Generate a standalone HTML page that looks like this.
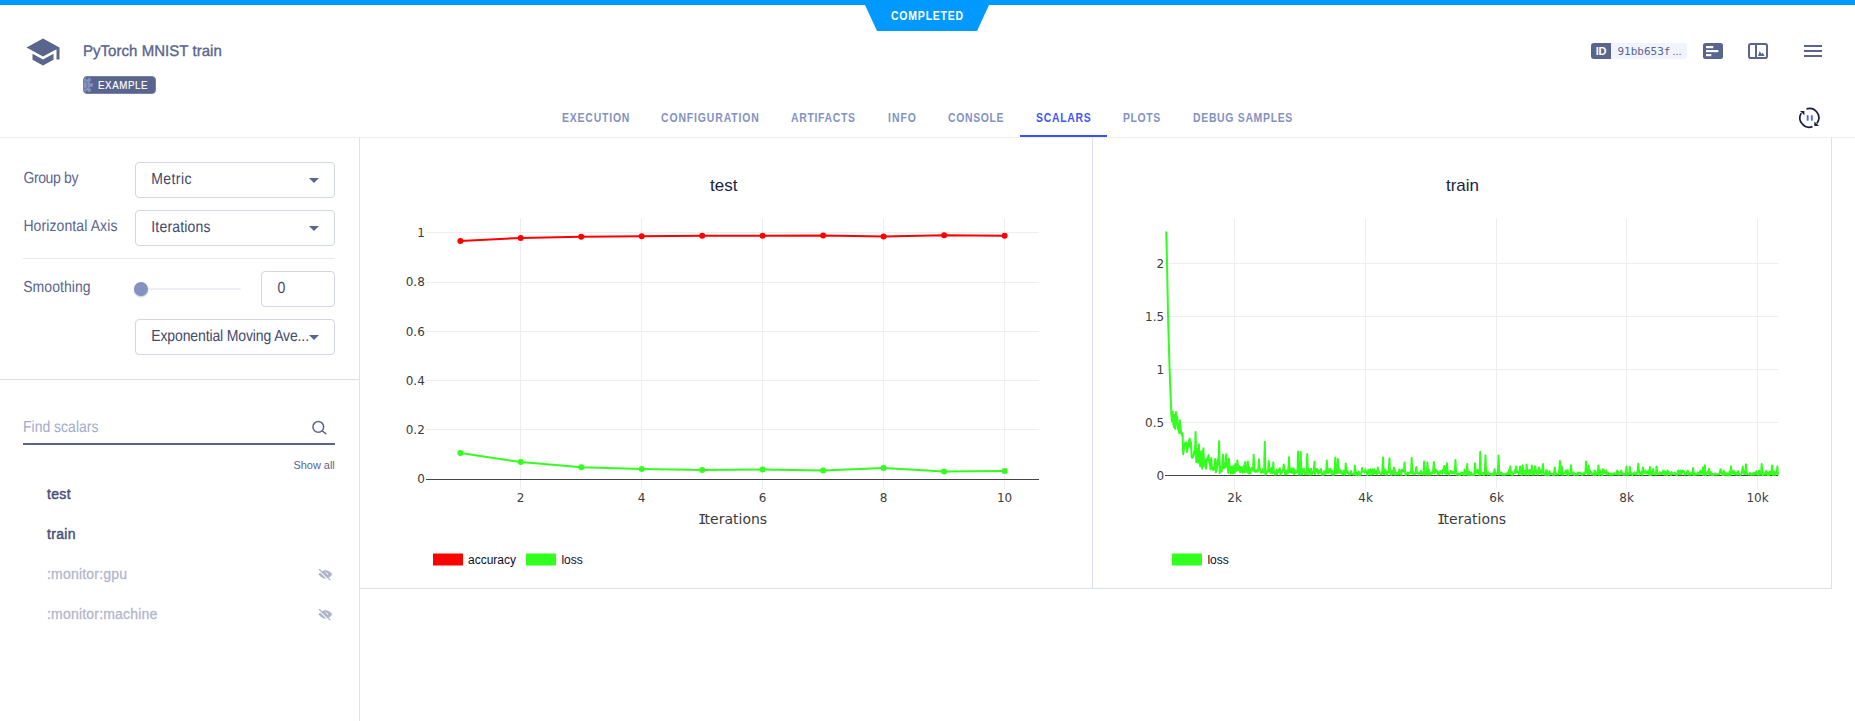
<!DOCTYPE html>
<html lang="en">
<head>
<meta charset="utf-8">
<title>PyTorch MNIST train - Scalars</title>
<style>
*{box-sizing:border-box;margin:0;padding:0}
html,body{width:1855px;height:721px;overflow:hidden;background:#fff}
body{position:relative;font-family:"Liberation Sans",Arial,sans-serif;color:#5a658e;-webkit-font-smoothing:antialiased}
.abs{position:absolute}
.t{position:absolute;white-space:nowrap;line-height:20px;height:20px}
.v{text-rendering:geometricPrecision;transform:translateY(0.15px) scaleY(1.14);transform-origin:0 14.85px}
/* top status */
#topbar{left:0;top:0;width:1855px;height:5px;background:#0099ff}
#status{left:865px;top:5px;width:124px;height:26px;background:#0099ff;clip-path:polygon(0 0,100% 0,112px 100%,12px 100%)}
#status span{position:absolute;left:25.8px;top:0.84px;white-space:nowrap;color:#fff;font-size:12px;font-weight:bold;line-height:20px;letter-spacing:0.95px;transform:scaleX(.87);transform-origin:0 0}
/* header */
#title{left:83px;top:41px;font-size:15px;color:#5a658e;letter-spacing:0.04px;-webkit-text-stroke:0.35px #5a658e;text-rendering:geometricPrecision;transform:translateY(0.8px) scaleY(1.035);transform-origin:0 15.2px}
#badge{left:83px;top:76px;width:73px;height:18px;border-radius:4px;background:#5a658e;border:1px solid #7681ad;overflow:hidden}
#badge span{position:absolute;left:13.9px;top:-2.2px;line-height:20px;font-size:10.6px;color:#fff;letter-spacing:0.62px;transform:scaleX(.92);transform-origin:0 0;-webkit-text-stroke:0.15px #fff;white-space:nowrap}
#idbox{left:1591px;top:43px;width:96px;height:16px;border-radius:3px;background:#f1f4fc;overflow:hidden}
#idbox b{position:absolute;left:0;top:0;width:20px;height:16px;background:#5a658e;color:#fff;font-size:11px;line-height:16px;text-align:center;letter-spacing:-0.2px}
#idbox code{position:absolute;left:26.4px;top:1px;line-height:16px;font-family:"DejaVu Sans Mono","Liberation Mono",monospace;font-size:11px;color:#5a658e}
#idbox i{position:absolute;left:81.5px;top:0;line-height:16px;font-style:normal;font-size:11px;color:#5a658e;letter-spacing:0px}
/* tabs */
nav a{position:absolute;top:107.84px;line-height:20px;font-size:12px;font-weight:bold;color:#8492c2;text-decoration:none;white-space:nowrap;transform:scaleX(.87);transform-origin:0 0}
nav a.on{color:#4156f6}
#ink{left:1020px;top:135px;width:87px;height:2px;background:#3a50fa}
#hline{left:0;top:137px;width:1855px;height:1px;background:#eeeeee}
/* sidebar */
#side{left:0;top:138px;width:360px;height:583px;border-right:1px solid #dde1ee}
.lbl{font-size:14px;color:#5a658e}
.sel{position:absolute;left:135px;width:200px;height:36px;border:1px solid #d3d6e3;border-radius:4px;background:#fff}
.sel span{text-rendering:geometricPrecision;transform:translateY(0.15px) scaleY(1.14);transform-origin:0 14.85px;position:absolute;left:15.3px;top:6px;line-height:20px;font-size:14px;color:#434a6b;white-space:nowrap}
.sel i{position:absolute;left:173px;top:15px;width:0;height:0;border-left:5px solid transparent;border-right:5px solid transparent;border-top:5px solid #5a658e}
#sep1{left:23px;top:120px;width:312px;height:1px;background:#e9e9ec}
#sep2{left:0;top:241px;width:359px;height:1px;background:#d9ddef}
#track{left:141px;top:150px;width:100px;height:2px;background:#eff0f6;border-radius:1px}
#thumb{left:134px;top:144px;width:14px;height:14px;border-radius:50%;background:#8492c2;box-shadow:0 1px 1.5px rgba(40,50,90,.28)}
#num{left:261px;top:133px;width:74px;height:36px;border:1px solid #d3d6e3;border-radius:4px}
#num span{text-rendering:geometricPrecision;transform:translateY(0.15px) scaleY(1.14);transform-origin:0 14.85px;position:absolute;left:15.6px;top:6px;line-height:20px;font-size:14px;color:#434a6b}
#find{left:23px;top:279px;font-size:14px;color:#a4abcb}
#findline{left:23px;top:305px;width:312px;height:2px;background:#5a658e}
#showall{left:293.5px;top:317px;font-size:11px;color:#5a658e;letter-spacing:-0.05px}
.m{position:absolute;left:47px;line-height:20px;font-size:14px;white-space:nowrap}
.m.b{font-weight:normal;color:#474f7c;letter-spacing:0.33px;-webkit-text-stroke:0.45px #474f7c}
.m.d{color:#b4b7c9;letter-spacing:0.2px;-webkit-text-stroke:0.3px #b4b7c9}
/* main */
#panel{left:360px;top:138px;width:1472px;height:451px;border-right:1px solid #dcdff0;border-bottom:1px solid #dde0ee;background:#fff}
#vsep{left:1092px;top:138px;width:1px;height:450px;background:#dcdff0}
svg{position:absolute;overflow:visible}
.tick{font-family:"DejaVu Sans",Verdana,sans-serif;font-size:12px;fill:#3c3c3c}
.axt{font-family:"DejaVu Sans",Verdana,sans-serif;font-size:14px;fill:#3c3c3c}
.ttl{font-family:"Liberation Sans",Arial,sans-serif;font-size:17px;fill:#1a1e44}
.leg{font-family:"Liberation Sans",Arial,sans-serif;font-size:12px;fill:#0a0d2c}
</style>
</head>
<body>
<div id="topbar" class="abs"></div>
<div id="status" class="abs"><span>COMPLETED</span></div>

<header>
  <svg style="left:25px;top:34px" width="36" height="36" viewBox="0 0 24 24"><path fill="#5a658e" d="M5 13.18v4L12 21l7-3.82v-4L12 17l-7-3.82zM12 3L1 9l11 6 9-4.91V17h2V9L12 3z"/></svg>
  <h1 id="title" class="t" style="font-weight:normal">PyTorch MNIST train</h1>
  <div id="badge" class="abs">
    <svg style="left:-8.7px;top:-1px" width="18" height="18" viewBox="-9 -9 18 18"><g fill="#8492c2"><circle r="6.1"/><rect x="-1.65" y="-8.9" width="3.3" height="3.8" rx="0.4" transform="rotate(0)"/><rect x="-1.65" y="-8.9" width="3.3" height="3.8" rx="0.4" transform="rotate(45)"/><rect x="-1.65" y="-8.9" width="3.3" height="3.8" rx="0.4" transform="rotate(90)"/><rect x="-1.65" y="-8.9" width="3.3" height="3.8" rx="0.4" transform="rotate(135)"/><rect x="-1.65" y="-8.9" width="3.3" height="3.8" rx="0.4" transform="rotate(180)"/></g><circle r="3.9" fill="none" stroke="#626d99" stroke-width="0.8"/></svg>
    <span>EXAMPLE</span>
  </div>
  <div id="idbox" class="abs"><b>ID</b><code>91bb653f</code><i>...</i></div>
  <svg style="left:1703px;top:43px" width="20" height="16" viewBox="0 0 20 16"><rect width="20" height="16" rx="2.5" fill="#5a658e"/><rect x="3" y="3" width="7.3" height="2.2" fill="#fff"/><rect x="3" y="7" width="12.3" height="2.2" fill="#fff"/><rect x="3" y="11" width="5.3" height="2.2" fill="#fff"/></svg>
  <svg style="left:1748px;top:43px" width="20" height="16" viewBox="0 0 20 16"><rect x="1" y="1" width="18" height="14" rx="1.8" fill="#fff" stroke="#5a658e" stroke-width="2"/><rect x="7" y="1" width="2" height="14" fill="#5a658e"/><path d="M10 13 L11.7 8 L13.4 11 L14.6 9.6 L16.6 13 Z" fill="#5a658e"/></svg>
  <svg style="left:1804px;top:45px" width="18" height="12" viewBox="0 0 18 12"><path d="M0 0h18v2H0zM0 5h18v2H0zM0 10h18v2H0z" fill="#5a658e"/></svg>
</header>

<nav>
  <a style="left:561.6px;letter-spacing:0.93px">EXECUTION</a>
  <a style="left:661.2px;letter-spacing:1.0px">CONFIGURATION</a>
  <a style="left:791.2px;letter-spacing:0.79px">ARTIFACTS</a>
  <a style="left:887.6px;letter-spacing:1.15px">INFO</a>
  <a style="left:948px;letter-spacing:0.75px">CONSOLE</a>
  <a class="on" style="left:1036px;letter-spacing:0.83px">SCALARS</a>
  <a style="left:1123.1px;letter-spacing:0.72px">PLOTS</a>
  <a style="left:1193px;letter-spacing:0.79px">DEBUG SAMPLES</a>
  <div id="ink" class="abs"></div>
  <svg style="left:1797px;top:106px" width="24" height="24" viewBox="0 0 24 24" fill="none">
    <path d="M15.46 20.67 A9.4 9.4 0 0 1 4.21 7.1" stroke="#1a1e44" stroke-width="1.7"/>
    <path d="M9.53 2.84 A9.4 9.4 0 0 1 19.9 17.4" stroke="#1a1e44" stroke-width="1.7"/>
    <path d="M3 5.1 H7.4 V9.2 Z" fill="#1a1e44"/>
    <path d="M17.3 15.5 V19.9 H22 Z" fill="#1a1e44"/>
    <rect x="9.7" y="9" width="1.9" height="5.8" rx="0.9" fill="#4d66ff"/>
    <rect x="13.9" y="9" width="1.9" height="5.8" rx="0.9" fill="#4d66ff"/>
  </svg>
</nav>
<div id="hline" class="abs"></div>

<aside id="side" class="abs">
  <label class="t lbl v" style="left:23.4px;top:30px;letter-spacing:-0.37px">Group by</label>
  <div class="sel" style="top:24px"><span style="letter-spacing:0.4px">Metric</span><i></i></div>
  <label class="t lbl v" style="left:23.4px;top:78px;letter-spacing:0.1px">Horizontal Axis</label>
  <div class="sel" style="top:72px"><span style="letter-spacing:0.18px">Iterations</span><i></i></div>
  <div id="sep1" class="abs"></div>
  <label class="t lbl v" style="left:23.2px;top:139px;letter-spacing:0.06px">Smoothing</label>
  <div id="track" class="abs"></div><div id="thumb" class="abs"></div>
  <div id="num" class="abs"><span>0</span></div>
  <div class="sel" style="top:181px"><span style="letter-spacing:-0.13px">Exponential Moving Ave...</span><i></i></div>
  <div id="sep2" class="abs"></div>
  <div id="find" class="t v">Find scalars</div>
  <svg style="left:311px;top:281px" width="18" height="18" viewBox="0 0 18 18" fill="none" stroke="#5a658e" stroke-width="1.5"><circle cx="7.3" cy="7.9" r="5.35"/><path d="M11.3 12 L14.8 14.6" stroke-linecap="round"/></svg>
  <div id="findline" class="abs"></div>
  <div id="showall" class="t">Show all</div>
  <div class="m b" style="top:346px">test</div>
  <div class="m b" style="top:386px">train</div>
  <div class="m d" style="top:426px">:monitor:gpu</div>
  <div class="m d" style="top:466px">:monitor:machine</div>
  <svg style="left:318.3px;top:430.7px" width="15" height="12" viewBox="0 0 15 12"><path fill="#b1b5c8" d="M0.5 5.6 C2.6 2.6 5 1.3 7.5 1.3 C10 1.3 12.4 2.6 14.3 5.6 C12.4 8.4 10 9.7 7.5 9.7 C5 9.7 2.6 8.4 0.5 5.6 Z"/><path d="M7.9 3.8 A1.9 1.9 0 0 1 9.8 5.7" fill="none" stroke="#fff" stroke-width="0.9"/><path d="M0.9 1.5 L11 11.4" fill="none" stroke="#fff" stroke-width="1.1"/><path d="M1.4 0.5 L12.1 10.9" fill="none" stroke="#b1b5c8" stroke-width="1.3" stroke-linecap="round"/></svg>
  <svg style="left:318.3px;top:470.7px" width="15" height="12" viewBox="0 0 15 12"><path fill="#b1b5c8" d="M0.5 5.6 C2.6 2.6 5 1.3 7.5 1.3 C10 1.3 12.4 2.6 14.3 5.6 C12.4 8.4 10 9.7 7.5 9.7 C5 9.7 2.6 8.4 0.5 5.6 Z"/><path d="M7.9 3.8 A1.9 1.9 0 0 1 9.8 5.7" fill="none" stroke="#fff" stroke-width="0.9"/><path d="M0.9 1.5 L11 11.4" fill="none" stroke="#fff" stroke-width="1.1"/><path d="M1.4 0.5 L12.1 10.9" fill="none" stroke="#b1b5c8" stroke-width="1.3" stroke-linecap="round"/></svg>
</aside>

<main>
<div id="panel" class="abs"></div>
<div id="vsep" class="abs"></div>
<svg style="left:0;top:0" width="1855" height="721" viewBox="0 0 1855 721">
  <!-- test chart -->
  <g shape-rendering="crispEdges" stroke="#eee" stroke-width="1" fill="none">
    <path d="M520.5 218V489M641.5 218V489M762.5 218V489M883.5 218V489M1004.5 218V489"/>
    <path d="M426 232.5H1039M426 282.5H1039M426 331.5H1039M426 380.5H1039M426 429.5H1039"/>
    <path d="M426 479.5H1039" stroke="#444"/>
  </g>
  <g fill="none" stroke-width="2" stroke-linejoin="round">
    <path stroke="#ff0000" d="M460.4 240.9L520.7 237.95L581.2 236.7L641.7 236.3L702.2 235.85L762.6 235.85L823.1 235.5L883.6 236.5L944.1 235.2L1004.6 235.7"/>
    <path stroke="#33ff1f" d="M460.4 452.9L520.7 462.1L581.2 467.2L641.7 468.9L702.2 470.1L762.6 469.4L823.1 470.55L883.6 468.1L944.1 471.4L1004.6 470.9"/>
  </g>
  <g fill="#ff0000">
    <circle cx="460.4" cy="240.9" r="3"/><circle cx="520.7" cy="237.95" r="3"/><circle cx="581.2" cy="236.7" r="3"/><circle cx="641.7" cy="236.3" r="3"/><circle cx="702.2" cy="235.85" r="3"/><circle cx="762.6" cy="235.85" r="3"/><circle cx="823.1" cy="235.5" r="3"/><circle cx="883.6" cy="236.5" r="3"/><circle cx="944.1" cy="235.2" r="3"/><circle cx="1004.6" cy="235.7" r="3"/>
  </g>
  <g fill="#33ff1f">
    <circle cx="460.4" cy="452.9" r="3"/><circle cx="520.7" cy="462.1" r="3"/><circle cx="581.2" cy="467.2" r="3"/><circle cx="641.7" cy="468.9" r="3"/><circle cx="702.2" cy="470.1" r="3"/><circle cx="762.6" cy="469.4" r="3"/><circle cx="823.1" cy="470.55" r="3"/><circle cx="883.6" cy="468.1" r="3"/><circle cx="944.1" cy="471.4" r="3"/><circle cx="1004.6" cy="470.9" r="3"/>
  </g>
  <g class="tick" text-anchor="end">
    <text x="424.8" y="236.8">1</text><text x="424.8" y="285.8">0.8</text><text x="424.8" y="335.8">0.6</text><text x="424.8" y="384.8">0.4</text><text x="424.8" y="433.8">0.2</text><text x="424.8" y="483.3">0</text>
  </g>
  <g class="tick" text-anchor="middle">
    <text x="520.6" y="502">2</text><text x="641.6" y="502">4</text><text x="762.6" y="502">6</text><text x="883.6" y="502">8</text><text x="1004.6" y="502">10</text>
  </g>
  <text class="axt" x="697.9" y="524"><tspan font-family="DejaVu Sans Mono,monospace" textLength="8.4">I</tspan><tspan x="704.6">terations</tspan></text>
  <text class="ttl" text-anchor="middle" x="723.7" y="191">test</text>
  <rect x="433" y="553.5" width="30" height="12" fill="#ff0000"/><text class="leg" x="468" y="564">accuracy</text>
  <rect x="526" y="553.5" width="30" height="12" fill="#33ff1f"/><text class="leg" x="561.4" y="564">loss</text>

  <!-- train chart -->
  <g shape-rendering="crispEdges" stroke="#eee" stroke-width="1" fill="none">
    <path d="M1234.5 218V489M1365.5 218V489M1496.5 218V489M1626.5 218V489M1757.5 218V489"/>
    <path d="M1165 263.5H1778M1165 316.5H1778M1165 369.5H1778M1165 422.5H1778"/>
    <path d="M1165 475.5H1778" stroke="#444"/>
  </g>
  <path fill="none" stroke="#33ff1f" stroke-width="2" stroke-linejoin="round" d="M1166.20,231.59L1166.85,254.67L1167.51,287.31L1168.16,321.69L1168.81,343.33L1169.46,364.97L1170.12,382.62L1170.77,399.24L1171.42,415.86L1172.08,421.42L1172.73,411.60L1173.38,424.44L1174.04,427.21L1174.69,414.90L1175.34,429.03L1175.99,411.99L1176.65,424.08L1177.30,417.10L1177.95,429.42L1178.61,429.14L1179.26,432.97L1179.91,420.40L1180.56,427.99L1181.22,433.46L1181.87,434.83L1182.52,433.20L1183.18,454.18L1183.83,449.69L1184.48,447.58L1185.14,442.39L1185.79,446.19L1186.44,442.53L1187.09,451.98L1187.75,446.06L1188.40,446.21L1189.05,440.40L1189.71,438.60L1190.36,447.27L1191.01,442.31L1191.66,456.70L1192.32,457.94L1192.97,456.29L1193.62,455.43L1194.28,450.84L1194.93,454.26L1195.58,431.90L1196.24,462.03L1196.89,460.39L1197.54,448.90L1198.19,462.63L1198.85,444.30L1199.50,456.72L1200.15,466.33L1200.81,459.94L1201.46,451.35L1202.11,468.70L1202.76,463.01L1203.42,448.20L1204.07,465.75L1204.72,459.60L1205.38,463.07L1206.03,468.62L1206.68,458.51L1207.33,459.91L1207.99,457.00L1208.64,455.15L1209.29,462.66L1209.95,464.19L1210.60,469.55L1211.25,458.00L1211.91,467.88L1212.56,467.52L1213.21,470.12L1213.86,469.50L1214.52,468.34L1215.17,459.07L1215.82,472.16L1216.48,471.23L1217.13,466.05L1217.78,459.16L1218.43,464.75L1219.09,441.20L1219.74,473.18L1220.39,466.37L1221.05,470.38L1221.70,471.40L1222.35,463.52L1223.01,454.80L1223.66,467.96L1224.31,467.73L1224.96,467.04L1225.62,461.39L1226.27,454.30L1226.92,467.05L1227.58,467.05L1228.23,472.91L1228.88,458.70L1229.53,465.40L1230.19,467.64L1230.84,473.57L1231.49,471.50L1232.15,466.54L1232.80,473.48L1233.45,470.58L1234.11,466.01L1234.76,472.95L1235.41,464.06L1236.06,468.47L1236.72,470.82L1237.37,460.40L1238.02,468.35L1238.68,470.25L1239.33,466.26L1239.98,472.21L1240.63,471.76L1241.29,467.07L1241.94,470.80L1242.59,472.72L1243.25,467.76L1243.90,465.58L1244.55,472.06L1245.21,462.00L1245.86,471.48L1246.51,471.55L1247.16,471.91L1247.82,461.50L1248.47,473.18L1249.12,466.96L1249.78,473.52L1250.43,472.91L1251.08,469.69L1251.73,467.83L1252.39,468.98L1253.04,470.69L1253.69,454.80L1254.35,471.27L1255.00,470.13L1255.65,472.05L1256.31,471.05L1256.96,470.25L1257.61,471.76L1258.26,469.70L1258.92,459.30L1259.57,467.20L1260.22,471.10L1260.88,472.69L1261.53,472.61L1262.18,471.96L1262.83,469.39L1263.49,472.61L1264.14,471.10L1264.79,441.70L1265.45,474.66L1266.10,473.73L1266.75,471.54L1267.40,471.18L1268.06,471.59L1268.71,461.00L1269.36,470.54L1270.02,471.54L1270.67,473.06L1271.32,467.86L1271.98,471.42L1272.63,473.14L1273.28,462.60L1273.93,472.66L1274.59,472.38L1275.24,474.74L1275.89,473.10L1276.55,469.63L1277.20,473.93L1277.85,472.45L1278.50,469.88L1279.16,470.22L1279.81,468.18L1280.46,474.39L1281.12,472.99L1281.77,472.98L1282.42,470.99L1283.08,469.52L1283.73,464.50L1284.38,469.56L1285.03,474.24L1285.69,470.89L1286.34,474.29L1286.99,472.14L1287.65,469.25L1288.30,472.77L1288.95,457.30L1289.60,470.64L1290.26,472.26L1290.91,472.70L1291.56,468.50L1292.22,469.88L1292.87,473.06L1293.52,468.54L1294.18,474.07L1294.83,470.37L1295.48,473.05L1296.13,472.36L1296.79,471.03L1297.44,472.20L1298.09,451.50L1298.75,474.40L1299.40,474.39L1300.05,471.32L1300.70,452.00L1301.36,474.02L1302.01,474.38L1302.66,469.26L1303.32,471.01L1303.97,468.73L1304.62,473.96L1305.28,472.71L1305.93,474.15L1306.58,471.00L1307.23,454.00L1307.89,473.93L1308.54,468.80L1309.19,470.36L1309.85,473.06L1310.50,474.72L1311.15,468.84L1311.80,472.94L1312.46,473.66L1313.11,472.01L1313.76,471.99L1314.42,461.80L1315.07,474.10L1315.72,469.93L1316.38,468.91L1317.03,468.92L1317.68,473.13L1318.33,473.86L1318.99,470.37L1319.64,472.65L1320.29,472.64L1320.95,468.96L1321.60,473.28L1322.25,474.91L1322.90,473.46L1323.56,474.72L1324.21,471.05L1324.86,472.30L1325.52,473.76L1326.17,472.92L1326.82,460.60L1327.47,472.78L1328.13,469.35L1328.78,473.03L1329.43,470.41L1330.09,469.06L1330.74,469.07L1331.39,473.86L1332.05,470.95L1332.70,474.76L1333.35,474.26L1334.00,474.81L1334.66,470.37L1335.31,457.60L1335.96,473.00L1336.62,473.29L1337.27,473.04L1337.92,459.00L1338.57,472.58L1339.23,469.15L1339.88,472.93L1340.53,471.95L1341.19,470.65L1341.84,473.33L1342.49,474.44L1343.15,473.80L1343.80,470.43L1344.45,474.69L1345.10,473.86L1345.76,463.40L1346.41,471.32L1347.06,473.05L1347.72,471.30L1348.37,472.78L1349.02,474.41L1349.67,474.66L1350.33,473.93L1350.98,470.97L1351.63,473.86L1352.29,474.20L1352.94,474.08L1353.59,474.66L1354.25,473.29L1354.90,465.40L1355.55,472.44L1356.20,475.03L1356.86,472.52L1357.51,473.97L1358.16,474.88L1358.82,471.60L1359.47,473.54L1360.12,474.99L1360.77,474.21L1361.43,472.62L1362.08,468.00L1362.73,471.48L1363.39,471.57L1364.04,471.79L1364.69,472.57L1365.35,469.61L1366.00,471.82L1366.65,472.32L1367.30,474.96L1367.96,471.17L1368.61,469.73L1369.26,473.62L1369.92,473.84L1370.57,469.37L1371.22,474.83L1371.87,472.31L1372.53,469.38L1373.18,474.31L1373.83,471.79L1374.49,469.39L1375.14,473.41L1375.79,472.12L1376.45,471.21L1377.10,474.31L1377.75,467.60L1378.40,472.72L1379.06,471.45L1379.71,473.30L1380.36,473.54L1381.02,474.41L1381.67,473.76L1382.32,471.27L1382.97,457.60L1383.63,474.29L1384.28,474.28L1384.93,469.44L1385.59,470.47L1386.24,472.00L1386.89,475.10L1387.54,472.04L1388.20,472.38L1388.85,469.46L1389.50,458.20L1390.16,473.40L1390.81,472.30L1391.46,474.96L1392.12,470.88L1392.77,472.73L1393.42,474.19L1394.07,467.60L1394.73,469.48L1395.38,474.71L1396.03,474.16L1396.69,472.82L1397.34,473.02L1397.99,473.88L1398.64,474.44L1399.30,469.50L1399.95,470.90L1400.60,474.60L1401.26,474.70L1401.91,469.51L1402.56,471.07L1403.22,469.52L1403.87,471.62L1404.52,462.60L1405.17,472.92L1405.83,475.07L1406.48,474.28L1407.13,473.47L1407.79,472.38L1408.44,474.26L1409.09,473.57L1409.74,472.53L1410.40,472.71L1411.05,472.12L1411.70,458.00L1412.36,473.85L1413.01,471.72L1413.66,473.33L1414.32,474.37L1414.97,474.19L1415.62,473.41L1416.27,467.00L1416.93,473.16L1417.58,473.42L1418.23,473.13L1418.89,473.62L1419.54,474.69L1420.19,472.66L1420.84,470.93L1421.50,472.64L1422.15,473.71L1422.80,472.61L1423.46,474.51L1424.11,461.50L1424.76,473.35L1425.42,474.49L1426.07,471.91L1426.72,474.60L1427.37,462.30L1428.03,474.57L1428.68,469.59L1429.33,473.98L1429.99,474.78L1430.64,474.37L1431.29,472.48L1431.94,472.54L1432.60,473.18L1433.25,469.60L1433.90,462.00L1434.56,473.52L1435.21,472.32L1435.86,469.60L1436.52,471.26L1437.17,471.09L1437.82,474.63L1438.47,473.71L1439.13,471.99L1439.78,473.91L1440.43,470.94L1441.09,472.34L1441.74,471.48L1442.39,473.81L1443.04,469.61L1443.70,470.30L1444.35,466.00L1445.00,473.37L1445.66,469.62L1446.31,473.99L1446.96,463.20L1447.61,471.26L1448.27,473.52L1448.92,474.71L1449.57,473.22L1450.23,472.90L1450.88,470.74L1451.53,471.88L1452.19,473.50L1452.84,471.67L1453.49,472.51L1454.14,473.20L1454.80,473.46L1455.45,460.00L1456.10,472.16L1456.76,474.66L1457.41,474.32L1458.06,473.55L1458.71,474.89L1459.37,474.13L1460.02,475.11L1460.67,474.38L1461.33,472.47L1461.98,472.48L1462.63,473.66L1463.29,473.90L1463.94,474.88L1464.59,469.63L1465.24,472.60L1465.90,470.91L1466.55,474.55L1467.20,464.00L1467.86,475.05L1468.51,471.94L1469.16,471.47L1469.81,475.08L1470.47,473.67L1471.12,472.35L1471.77,475.04L1472.43,475.06L1473.08,474.69L1473.73,474.35L1474.39,474.88L1475.04,463.20L1475.69,473.19L1476.34,472.37L1477.00,472.19L1477.65,469.73L1478.30,470.72L1478.96,474.84L1479.61,474.25L1480.26,451.70L1480.91,474.71L1481.57,473.74L1482.22,473.62L1482.87,472.73L1483.53,474.98L1484.18,474.81L1484.83,473.67L1485.49,455.40L1486.14,474.05L1486.79,473.73L1487.44,474.49L1488.10,472.25L1488.75,473.04L1489.40,473.77L1490.06,474.42L1490.71,473.89L1491.36,475.23L1492.01,474.66L1492.67,473.60L1493.32,474.95L1493.97,473.34L1494.63,469.30L1495.28,474.89L1495.93,474.00L1496.59,474.07L1497.24,472.85L1497.89,472.51L1498.54,455.40L1499.20,474.57L1499.85,473.87L1500.50,473.77L1501.16,472.21L1501.81,473.19L1502.46,474.48L1503.11,474.88L1503.77,474.15L1504.42,474.49L1505.07,474.75L1505.73,473.85L1506.38,474.28L1507.03,473.53L1507.68,472.75L1508.34,474.20L1508.99,469.96L1509.64,474.10L1510.30,466.30L1510.95,473.51L1511.60,471.10L1512.26,475.23L1512.91,474.51L1513.56,473.31L1514.21,472.59L1514.87,470.00L1515.52,473.18L1516.17,466.50L1516.83,472.19L1517.48,471.68L1518.13,472.81L1518.78,473.92L1519.44,472.82L1520.09,466.50L1520.74,470.91L1521.40,474.71L1522.05,473.33L1522.70,465.20L1523.36,474.01L1524.01,473.69L1524.66,471.00L1525.31,473.69L1525.97,474.57L1526.62,464.60L1527.27,472.68L1527.93,472.38L1528.58,474.55L1529.23,470.08L1529.88,470.09L1530.54,473.71L1531.19,473.31L1531.84,465.40L1532.50,470.10L1533.15,474.50L1533.80,472.48L1534.46,474.30L1535.11,466.30L1535.76,472.38L1536.41,470.40L1537.07,473.76L1537.72,474.48L1538.37,472.15L1539.03,467.40L1539.68,473.26L1540.33,470.14L1540.98,471.18L1541.64,474.35L1542.29,470.16L1542.94,464.00L1543.60,472.23L1544.25,474.46L1544.90,473.82L1545.56,475.07L1546.21,470.18L1546.86,470.32L1547.51,474.84L1548.17,474.98L1548.82,475.03L1549.47,471.06L1550.13,474.30L1550.78,473.85L1551.43,474.15L1552.08,473.93L1552.74,474.78L1553.39,473.74L1554.04,474.95L1554.70,467.40L1555.35,473.30L1556.00,473.00L1556.66,474.07L1557.31,474.67L1557.96,473.55L1558.61,474.33L1559.27,470.24L1559.92,461.00L1560.57,473.94L1561.23,474.32L1561.88,466.50L1562.53,474.69L1563.18,474.21L1563.84,473.34L1564.49,472.92L1565.14,472.81L1565.80,470.27L1566.45,474.53L1567.10,473.78L1567.75,470.28L1568.41,475.12L1569.06,474.38L1569.71,473.55L1570.37,473.58L1571.02,465.20L1571.67,474.10L1572.33,473.23L1572.98,473.73L1573.63,472.36L1574.28,475.13L1574.94,474.67L1575.59,473.81L1576.24,474.76L1576.90,474.77L1577.55,472.71L1578.20,474.50L1578.85,472.69L1579.51,472.44L1580.16,473.35L1580.81,472.97L1581.47,473.95L1582.12,474.95L1582.77,473.86L1583.43,473.08L1584.08,474.40L1584.73,473.95L1585.38,472.44L1586.04,461.50L1586.69,472.70L1587.34,470.36L1588.00,474.42L1588.65,465.40L1589.30,474.02L1589.95,470.37L1590.61,473.35L1591.26,472.07L1591.91,474.54L1592.57,473.85L1593.22,473.84L1593.87,475.10L1594.53,470.39L1595.18,472.08L1595.83,475.09L1596.48,472.48L1597.14,474.00L1597.79,473.12L1598.44,465.40L1599.10,475.00L1599.75,474.10L1600.40,470.41L1601.05,474.45L1601.71,474.77L1602.36,474.94L1603.01,469.30L1603.67,473.33L1604.32,470.42L1604.97,473.17L1605.63,473.49L1606.28,470.43L1606.93,474.41L1607.58,474.54L1608.24,472.98L1608.89,472.94L1609.54,474.77L1610.20,474.85L1610.85,473.42L1611.50,473.49L1612.15,474.92L1612.81,474.10L1613.46,474.43L1614.11,473.12L1614.77,474.00L1615.42,473.97L1616.07,474.26L1616.73,471.68L1617.38,470.51L1618.03,474.28L1618.68,472.27L1619.34,474.61L1619.99,473.76L1620.64,472.51L1621.30,470.48L1621.95,474.29L1622.60,473.96L1623.25,473.59L1623.91,475.01L1624.56,473.84L1625.21,474.55L1625.87,473.30L1626.52,466.50L1627.17,475.16L1627.82,473.82L1628.48,473.49L1629.13,474.45L1629.78,466.70L1630.44,474.19L1631.09,474.50L1631.74,473.11L1632.40,475.04L1633.05,474.55L1633.70,473.90L1634.35,472.30L1635.01,474.07L1635.66,473.42L1636.31,474.54L1636.97,473.43L1637.62,470.53L1638.27,463.70L1638.92,470.53L1639.58,474.53L1640.23,473.86L1640.88,473.64L1641.54,471.83L1642.19,474.90L1642.84,467.40L1643.50,472.87L1644.15,472.45L1644.80,472.84L1645.45,470.55L1646.11,473.60L1646.76,473.52L1647.41,472.11L1648.07,473.33L1648.72,470.56L1649.37,474.90L1650.02,467.00L1650.68,475.26L1651.33,472.42L1651.98,474.31L1652.64,472.13L1653.29,468.90L1653.94,473.90L1654.60,474.19L1655.25,474.42L1655.90,474.68L1656.55,466.50L1657.21,472.82L1657.86,473.85L1658.51,473.81L1659.17,474.10L1659.82,472.17L1660.47,473.12L1661.12,474.07L1661.78,472.77L1662.43,474.08L1663.08,471.00L1663.74,470.60L1664.39,473.18L1665.04,474.76L1665.70,471.71L1666.35,473.39L1667.00,475.04L1667.65,470.61L1668.31,473.42L1668.96,472.24L1669.61,473.63L1670.27,474.08L1670.92,475.04L1671.57,472.03L1672.22,473.87L1672.88,474.23L1673.53,473.39L1674.18,473.81L1674.84,472.77L1675.49,474.32L1676.14,473.95L1676.80,475.21L1677.45,474.37L1678.10,470.40L1678.75,470.87L1679.41,474.31L1680.06,474.06L1680.71,470.63L1681.37,474.28L1682.02,472.65L1682.67,470.64L1683.32,470.70L1683.98,471.27L1684.63,474.60L1685.28,473.63L1685.94,474.01L1686.59,473.76L1687.24,471.59L1687.89,470.65L1688.55,474.57L1689.20,474.50L1689.85,473.15L1690.51,474.82L1691.16,473.15L1691.81,473.00L1692.47,474.23L1693.12,468.10L1693.77,475.04L1694.42,472.60L1695.08,475.04L1695.73,474.60L1696.38,474.49L1697.04,474.36L1697.69,472.37L1698.34,473.82L1698.99,474.35L1699.65,473.07L1700.30,470.67L1700.95,473.92L1701.61,473.39L1702.26,471.26L1702.91,467.60L1703.57,474.94L1704.22,470.68L1704.87,465.20L1705.52,475.18L1706.18,473.98L1706.83,473.31L1707.48,472.10L1708.14,472.82L1708.79,468.70L1709.44,474.82L1710.09,473.80L1710.75,471.91L1711.40,474.84L1712.05,474.81L1712.71,473.96L1713.36,475.17L1714.01,474.23L1714.67,474.39L1715.32,473.25L1715.97,474.61L1716.62,474.73L1717.28,474.36L1717.93,474.00L1718.58,474.58L1719.24,473.92L1719.89,472.65L1720.54,469.30L1721.19,470.71L1721.85,474.66L1722.50,474.38L1723.15,475.27L1723.81,470.71L1724.46,474.63L1725.11,473.98L1725.77,473.13L1726.42,474.97L1727.07,473.24L1727.72,473.97L1728.38,475.14L1729.03,473.53L1729.68,471.45L1730.34,475.15L1730.99,466.30L1731.64,473.66L1732.29,473.22L1732.95,473.28L1733.60,470.40L1734.25,474.20L1734.91,472.37L1735.56,474.38L1736.21,472.71L1736.87,474.69L1737.52,474.07L1738.17,471.00L1738.82,473.28L1739.48,474.13L1740.13,474.88L1740.78,474.67L1741.44,473.69L1742.09,472.21L1742.74,466.50L1743.39,473.14L1744.05,474.00L1744.70,470.92L1745.35,474.36L1746.01,464.30L1746.66,472.34L1747.31,473.87L1747.96,474.26L1748.62,474.52L1749.27,474.24L1749.92,472.95L1750.58,473.44L1751.23,474.91L1751.88,473.32L1752.54,473.71L1753.19,474.80L1753.84,472.63L1754.49,474.26L1755.15,474.32L1755.80,472.58L1756.45,471.05L1757.11,474.61L1757.76,473.30L1758.41,474.73L1759.06,470.76L1759.72,474.46L1760.37,471.48L1761.02,474.58L1761.68,464.00L1762.33,470.77L1762.98,475.27L1763.64,474.41L1764.29,473.20L1764.94,474.07L1765.59,474.60L1766.25,470.77L1766.90,473.86L1767.55,475.09L1768.21,472.45L1768.86,475.11L1769.51,471.63L1770.16,474.53L1770.82,473.77L1771.47,471.27L1772.12,465.40L1772.78,474.99L1773.43,475.10L1774.08,471.53L1774.74,472.72L1775.39,474.70L1776.04,472.44L1776.69,473.21L1777.35,466.50L1778.00,475.25"/>
  <g class="tick" text-anchor="end">
    <text x="1164.1" y="267.8">2</text><text x="1164.1" y="320.8">1.5</text><text x="1164.1" y="373.8">1</text><text x="1164.1" y="426.8">0.5</text><text x="1164.1" y="479.8">0</text>
  </g>
  <g class="tick" text-anchor="middle">
    <text x="1234.6" y="502">2k</text><text x="1365.6" y="502">4k</text><text x="1496.6" y="502">6k</text><text x="1626.6" y="502">8k</text><text x="1757.6" y="502">10k</text>
  </g>
  <text class="axt" x="1436.9" y="524"><tspan font-family="DejaVu Sans Mono,monospace" textLength="8.4">I</tspan><tspan x="1443.6">terations</tspan></text>
  <text class="ttl" text-anchor="middle" x="1462.5" y="191">train</text>
  <rect x="1172" y="553.5" width="30" height="12" fill="#33ff1f"/><text class="leg" x="1207.4" y="564">loss</text>
</svg>
</main>
</body>
</html>
